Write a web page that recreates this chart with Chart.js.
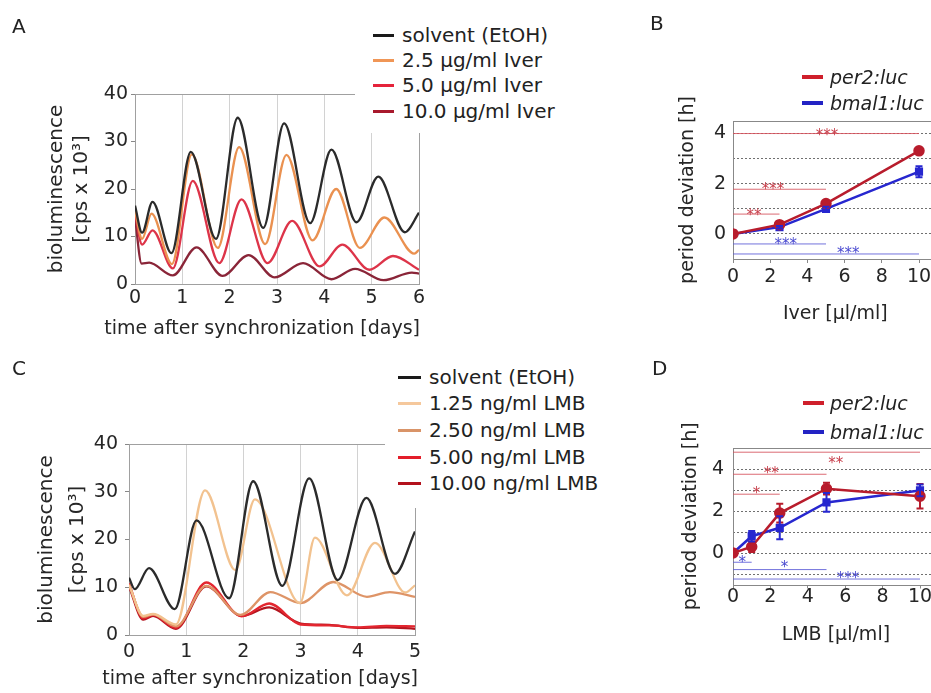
<!DOCTYPE html>
<html><head><meta charset="utf-8">
<script src="https://cdn.jsdelivr.net/npm/chart.js@4"></script>
<style>
html,body{margin:0;padding:0;background:#fff;overflow:hidden;width:931px;height:693px;position:relative}
canvas{position:absolute}
.let{position:absolute;font-family:"DejaVu Sans",sans-serif;font-size:20px;line-height:1;color:#222}
.xt{position:absolute;font-family:"DejaVu Sans",sans-serif;font-size:19px;line-height:1;color:#262626;white-space:nowrap}
.leg{position:absolute;background:#fff;font-family:"DejaVu Sans",sans-serif;color:#222}
.row{position:absolute;left:0;height:26px;display:flex;align-items:center;white-space:nowrap}
.sw{display:inline-block;height:3px}
</style></head>
<body>
<canvas id="cA" width="460" height="340" style="left:0;top:0"></canvas>
<canvas id="cB" width="400" height="340" style="left:600px;top:0"></canvas>
<canvas id="cC" width="460" height="343" style="left:0;top:350px"></canvas>
<canvas id="cD" width="400" height="310" style="left:600px;top:350px"></canvas>
<div class="let" style="left:12px;top:16px">A</div>
<div class="let" style="left:650px;top:13px">B</div>
<div class="let" style="left:12px;top:358px">C</div>
<div class="let" style="left:652px;top:358px">D</div>
<div id="xtA" class="xt" style="right:511px;top:318px"></div>
<div id="xtC" class="xt" style="right:513px;top:668px"></div>
<div id="legA" class="leg" style="left:355px;top:10px;width:245px;height:123px"></div>
<div id="legC" class="leg" style="left:385px;top:356px;width:215px;height:152px"></div>
<div id="legB" class="leg" style="left:795px;top:55px;width:136px;height:60px"></div>
<div id="legD" class="leg" style="left:795px;top:382px;width:136px;height:62px"></div>
<script>
// ---------- Panel A : Ivermectin time courses ----------
const A_xTicks = [0, 1, 2, 3, 4, 5, 6];
const A_yTicks = [0, 10, 20, 30, 40];
const A_xTitle = 'time after synchronization [days]';
const A_labels = ['solvent (EtOH)', '2.5 µg/ml Iver', '5.0 µg/ml Iver', '10.0 µg/ml Iver'];
const A_solvent_t = [0, 0.15, 0.37, 0.77, 1.18, 1.71, 2.17, 2.71, 3.15, 3.70, 4.15, 4.68, 5.14, 5.70, 6.0];
const A_solvent_v = [16.5, 10.8, 17.3, 6.5, 27.8, 9.5, 35.0, 11.8, 33.8, 12.8, 28.3, 13.0, 22.6, 10.9, 15.0];
const A_iver25_t = [0, 0.15, 0.35, 0.78, 1.2, 1.75, 2.2, 2.75, 3.2, 3.75, 4.25, 4.75, 5.27, 5.9, 6.0];
const A_iver25_v = [15.5, 9.5, 14.8, 4.2, 27.3, 7.6, 28.8, 8.4, 27.2, 9.2, 20.0, 7.6, 14.0, 6.4, 7.2];
const A_iver50_t = [0, 0.15, 0.37, 0.8, 1.22, 1.78, 2.25, 2.8, 3.32, 3.9, 4.38, 4.95, 5.45, 6.0];
const A_iver50_v = [15.0, 8.3, 11.3, 3.3, 21.7, 4.4, 17.8, 4.4, 13.3, 3.7, 8.3, 3.0, 5.9, 3.0];
const A_iver100_t = [0, 0.14, 0.3, 0.8, 1.3, 1.85, 2.4, 2.95, 3.55, 4.15, 4.65, 5.25, 5.85, 6.0];
const A_iver100_v = [14.0, 4.3, 4.5, 1.8, 7.7, 1.7, 6.1, 1.4, 4.4, 1.0, 3.2, 0.8, 2.4, 2.2];

// ---------- Panel C : LMB time courses ----------
const C_xTicks = [0, 1, 2, 3, 4, 5];
const C_yTicks = [0, 10, 20, 30, 40];
const C_xTitle = 'time after synchronization [days]';
const C_labels = ['solvent (EtOH)', '1.25 ng/ml LMB', '2.50 ng/ml LMB', '5.00 ng/ml LMB', '10.00 ng/ml LMB'];
const C_solvent_t = [0, 0.1, 0.35, 0.8, 1.18, 1.75, 2.17, 2.68, 3.15, 3.65, 4.15, 4.65, 5.0];
const C_solvent_v = [12.0, 9.6, 14.0, 5.4, 24.0, 7.7, 32.2, 10.3, 32.8, 11.5, 28.7, 12.8, 21.7];
const C_lmb125_t = [0, 0.25, 0.42, 0.82, 1.33, 1.86, 2.2, 2.99, 3.25, 3.81, 4.3, 4.83, 5.0];
const C_lmb125_v = [10.5, 4.0, 4.4, 2.2, 30.3, 13.6, 28.4, 6.7, 20.4, 8.3, 19.3, 8.9, 10.4];
const C_lmb250_t = [0, 0.25, 0.42, 0.82, 1.35, 1.95, 2.47, 3.0, 3.57, 4.16, 4.56, 5.0];
const C_lmb250_v = [10.5, 3.8, 4.3, 1.8, 10.3, 4.2, 9.0, 6.7, 11.1, 8.0, 9.0, 8.0];
const C_lmb500_t = [0, 0.25, 0.42, 0.82, 1.35, 1.97, 2.45, 3.0, 3.5, 4.0, 4.5, 5.0];
const C_lmb500_v = [10.8, 3.5, 4.2, 1.5, 11.0, 3.9, 6.6, 2.2, 2.0, 1.6, 1.9, 1.8];
const C_lmb1000_t = [0, 0.25, 0.42, 0.82, 1.35, 1.97, 2.45, 3.0, 3.5, 4.0, 4.5, 5.0];
const C_lmb1000_v = [10.2, 3.2, 4.0, 1.3, 10.2, 4.0, 5.8, 2.4, 2.1, 1.5, 1.6, 1.3];

// ---------- Panel B : period deviation vs Iver ----------
const B_xTicks = [0, 2, 4, 6, 8, 10];
const B_yGrid = [-1, 0, 1, 2, 3, 4];
const B_yLabels = [0, 2, 4];
const B_dose = [0, 2.5, 5, 10];
const B_per2 = [0, 0.37, 1.21, 3.31];
const B_per2_err = [0, 0.05, 0.08, 0.08];
const B_bmal1 = [0, 0.27, 1.0, 2.48];
const B_bmal1_err = [0, 0.05, 0.08, 0.22];
// significance bars: [y level, from dose, to dose, stars, star x, star y]
const B_sigPer2 = [[4.0, 0, 10, '***', 5.05, 4.06], [1.78, 0, 5, '***', 2.15, 1.9], [0.79, 0, 2.5, '**', 1.13, 0.88]];
const B_sigBmal1 = [[-0.4, 0, 5, '***', 2.83, -0.3], [-0.8, 0, 10, '***', 6.2, -0.66]];

// ---------- Panel D : period deviation vs LMB ----------
const D_xTicks = [0, 2, 4, 6, 8, 10];
const D_yGrid = [-1, 0, 1, 2, 3, 4];
const D_yLabels = [0, 2, 4];
const D_dose = [0, 1, 2.5, 5, 10];
const D_per2 = [0, 0.3, 1.9, 3.06, 2.7];
const D_per2_err = [0, 0.25, 0.45, 0.28, 0.58];
const D_bmal1 = [0, 0.8, 1.2, 2.41, 2.98];
const D_bmal1_err = [0, 0.25, 0.55, 0.45, 0.28];
const D_sigPer2 = [[4.8, 0, 10, '**', 5.5, 4.42], [3.75, 0, 5, '**', 2.05, 3.97], [2.8, 0, 2.5, '*', 1.25, 3.0]];
const D_sigBmal1 = [[-0.44, 0, 1, '*', 0.5, -0.28], [-0.79, 0, 5, '*', 2.75, -0.55], [-1.24, 0, 10, '***', 6.15, -1.06]];

const LEG_BD = ['per2:luc', 'bmal1:luc'];

// ---------- helpers ----------
Chart.defaults.font.family = "'DejaVu Sans', sans-serif";
Chart.defaults.color = '#262626';

function pts(t, v) { return t.map((x, i) => ({x: x, y: v[i]})); }
function curve(t, v, color) {
  return {data: pts(t, v), borderColor: color, backgroundColor: color, borderWidth: 2.3,
          pointRadius: 0, cubicInterpolationMode: 'monotone', fill: false, order: 1};
}
function sigSets(list, color) {
  return list.map(s => ({data: [{x: s[1], y: s[0]}, {x: s[2], y: s[0]}], borderColor: color,
    borderWidth: 1, pointRadius: 0, fill: false, order: 5, tension: 0}));
}
function sigStars(list, color) {
  return list.map(s => ({x: s[4], y: s[5], text: s[3], color: color}));
}

const boxPlugin = {
  id: 'box',
  beforeDatasetsDraw(chart, args, opts) {
    const a = chart.chartArea, ctx = chart.ctx;
    ctx.save();
    ctx.strokeStyle = opts.color || '#999';
    ctx.lineWidth = 1;
    ctx.strokeRect(Math.round(a.left) + 0.5, Math.round(a.top) + 0.5,
                   Math.round(a.right - a.left), Math.round(a.bottom - a.top));
    ctx.restore();
  }
};
const errPlugin = {
  id: 'errbars',
  afterDatasetsDraw(chart) {
    const ctx = chart.ctx, xs = chart.scales.x, ys = chart.scales.y;
    chart.data.datasets.forEach(ds => {
      if (!ds.errors) return;
      ctx.save();
      ctx.strokeStyle = ds.borderColor; ctx.lineWidth = 2;
      ds.data.forEach((p, j) => {
        const e = ds.errors[j]; if (!e) return;
        const x = xs.getPixelForValue(p.x);
        const y1 = ys.getPixelForValue(p.y - e), y2 = ys.getPixelForValue(p.y + e);
        ctx.beginPath();
        ctx.moveTo(x, y1); ctx.lineTo(x, y2);
        ctx.moveTo(x - 3.5, y1); ctx.lineTo(x + 3.5, y1);
        ctx.moveTo(x - 3.5, y2); ctx.lineTo(x + 3.5, y2);
        ctx.stroke();
      });
      ctx.restore();
    });
  }
};
const starPlugin = {
  id: 'stars',
  afterDatasetsDraw(chart, args, opts) {
    if (!opts.items) return;
    const ctx = chart.ctx, xs = chart.scales.x, ys = chart.scales.y;
    ctx.save();
    ctx.font = "15px 'DejaVu Sans', sans-serif";
    ctx.textAlign = 'center'; ctx.textBaseline = 'middle';
    opts.items.forEach(it => {
      ctx.fillStyle = it.color;
      ctx.fillText(it.text, xs.getPixelForValue(it.x), ys.getPixelForValue(it.y) + 4);
    });
    ctx.restore();
  }
};

function timeChart(id, cfg) {
  return new Chart(document.getElementById(id), {
    type: 'line',
    data: {datasets: cfg.sets},
    options: {
      responsive: false, animation: false, devicePixelRatio: 1,
      layout: {padding: {left: 0, top: cfg.top, right: cfg.right, bottom: 0}},
      plugins: {legend: {display: false}, tooltip: {enabled: false}, box: {color: '#a0a0a0'}},
      scales: {
        x: {type: 'linear', min: cfg.xTicks[0], max: cfg.xTicks[cfg.xTicks.length - 1],
            afterFit(s) { s.height = cfg.xH; },
            afterBuildTicks(s) { s.ticks = cfg.xTicks.map(v => ({value: v})); },
            ticks: {padding: cfg.xPad, font: {size: 19}, maxRotation: 0, autoSkip: false},
            grid: {color: '#d2d2d2', drawTicks: false},
            border: {display: false},
            title: {display: false}},
        y: {type: 'linear', min: cfg.yTicks[0], max: cfg.yTicks[cfg.yTicks.length - 1],
            afterFit(s) { s.width = cfg.yW; },
            afterBuildTicks(s) { s.ticks = cfg.yTicks.map(v => ({value: v})); },
            ticks: {padding: cfg.yPad, font: {size: 19}},
            grid: {drawOnChartArea: false, drawTicks: true, tickLength: 4, color: '#888'},
            border: {display: true, color: '#888'},
            title: {display: true, text: ['bioluminescence', '[cps x 10³]'],
                    font: {size: 20, lineHeight: cfg.ytLH}, padding: {top: cfg.ytPad, bottom: 0}}}
      }
    },
    plugins: [boxPlugin]
  });
}

function periodChart(id, cfg) {
  const sets = [
    {data: pts(cfg.dose, cfg.per2), errors: cfg.per2Err, borderColor: '#b81c2c', backgroundColor: '#b81c2c',
     borderWidth: 2.5, pointRadius: 4.5, pointStyle: 'circle', order: 0, tension: 0},
    {data: pts(cfg.dose, cfg.bmal1), errors: cfg.bmal1Err, borderColor: '#2727cf', backgroundColor: '#2727cf',
     borderWidth: 2.5, pointRadius: 4, pointStyle: 'rect', order: 1, tension: 0}
  ].concat(sigSets(cfg.sigR, 'rgba(214,80,90,0.85)'), sigSets(cfg.sigB, 'rgba(90,90,215,0.85)'));
  return new Chart(document.getElementById(id), {
    type: 'line',
    data: {datasets: sets},
    options: {
      responsive: false, animation: false, devicePixelRatio: 1,
      layout: {padding: {left: 0, top: cfg.top, right: cfg.right, bottom: 0}},
      plugins: {legend: {display: false}, tooltip: {enabled: false}, box: {color: '#888'},
                stars: {items: sigStars(cfg.sigR, '#c8404c').concat(sigStars(cfg.sigB, '#4a4ad0'))}},
      scales: {
        x: {type: 'linear', min: 0, max: 11,
            afterFit(s) { s.height = cfg.xH; },
            afterBuildTicks(s) { s.ticks = cfg.xTicks.map(v => ({value: v})); },
            ticks: {padding: cfg.xPad, font: {size: 19}, maxRotation: 0, autoSkip: false},
            grid: {drawOnChartArea: false, drawTicks: true, tickLength: 4, color: '#888'},
            border: {display: false},
            title: {display: true, text: cfg.xTitle, font: {size: 19}, padding: {top: 0, bottom: cfg.xtPad}}},
        y: {type: 'linear', min: cfg.yMin, max: cfg.yMax,
            afterFit(s) { s.width = 133; },
            afterBuildTicks(s) { s.ticks = cfg.yGrid.map(v => ({value: v})); },
            ticks: {padding: cfg.yPad, font: {size: 19}, autoSkip: false,
                    callback: v => cfg.yLabels.includes(v) ? String(v) : ''},
            grid: {drawOnChartArea: true, drawTicks: false, color: '#707070'},
            border: {display: false, dash: [2, 2]},
            title: {display: true, text: 'period deviation [h]', font: {size: 19}, padding: {top: cfg.ytPad, bottom: 0}}}
      }
    },
    plugins: [boxPlugin, errPlugin, starPlugin]
  });
}

timeChart('cA', {
  sets: [curve(A_solvent_t, A_solvent_v, '#2b2b2b'), curve(A_iver25_t, A_iver25_v, '#ea9150'),
         curve(A_iver50_t, A_iver50_v, '#dd3449'), curve(A_iver100_t, A_iver100_v, '#8a2538')],
  xTicks: A_xTicks, yTicks: A_yTicks, top: 94, right: 41, xH: 56, yW: 135,
  xPad: 3, yPad: 3, ytLH: 1.25, ytPad: 44.5
});
timeChart('cC', {
  sets: [curve(C_solvent_t, C_solvent_v, '#2b2b2b'), curve(C_lmb125_t, C_lmb125_v, '#f2c28f'),
         curve(C_lmb250_t, C_lmb250_v, '#de9467'), curve(C_lmb500_t, C_lmb500_v, '#e3262f'),
         curve(C_lmb1000_t, C_lmb1000_v, '#b3151f')],
  xTicks: C_xTicks, yTicks: C_yTicks, top: 94, right: 45, xH: 58, yW: 129,
  xPad: 6, yPad: 7, ytLH: 1.55, ytPad: 31.5
});
periodChart('cB', {
  dose: B_dose, per2: B_per2, per2Err: B_per2_err, bmal1: B_bmal1, bmal1Err: B_bmal1_err,
  sigR: B_sigPer2, sigB: B_sigBmal1, xTicks: B_xTicks, yGrid: B_yGrid, yLabels: B_yLabels,
  yMin: -1, yMax: 4.5, top: 121, right: 62.4, xH: 81, xPad: 3, xtPad: 15, yPad: 7, ytPad: 77,
  xTitle: 'Iver [µl/ml]'
});
periodChart('cD', {
  dose: D_dose, per2: D_per2, per2Err: D_per2_err, bmal1: D_bmal1, bmal1Err: D_bmal1_err,
  sigR: D_sigPer2, sigB: D_sigBmal1, xTicks: D_xTicks, yGrid: D_yGrid, yLabels: D_yLabels,
  yMin: -1.5, yMax: 5, top: 98, right: 61.3, xH: 75.5, xPad: -3, xtPad: 14, yPad: 9, ytPad: 80,
  xTitle: 'LMB [µl/ml]'
});

document.getElementById('xtA').textContent = A_xTitle;
document.getElementById('xtC').textContent = C_xTitle;

// ---------- legends (HTML text) ----------
function legend(id, labels, colors, rowsY, swX, swW, swH, txtX, size, italic) {
  const box = document.getElementById(id);
  const r = box.getBoundingClientRect();
  labels.forEach((lab, i) => {
    const row = document.createElement('div');
    row.className = 'row';
    row.style.top = (rowsY[i] - r.top - 13) + 'px';
    row.style.left = (swX - r.left) + 'px';
    const sw = document.createElement('span');
    sw.className = 'sw';
    sw.style.width = swW + 'px'; sw.style.height = swH + 'px'; sw.style.background = colors[i];
    sw.style.marginRight = (txtX - swX - swW) + 'px';
    const tx = document.createElement('span');
    tx.textContent = lab;
    tx.style.fontSize = size + 'px';
    if (italic) tx.style.fontStyle = 'italic';
    row.appendChild(sw); row.appendChild(tx);
    box.appendChild(row);
  });
}
legend('legA', A_labels, ['#1a1a1a', '#f09656', '#e5233b', '#a8192d'], [35, 60, 85, 111], 373, 21, 3, 402, 20, false);
legend('legC', C_labels, ['#1a1a1a', '#f5c89c', '#d99468', '#e31e2a', '#b3121d'], [377, 403, 430, 457, 483], 398, 23, 3, 429, 20, false);
legend('legB', LEG_BD, ['#cf1f2b', '#2323c4'], [77, 103], 802, 21, 4, 830, 19, true);
legend('legD', LEG_BD, ['#cf1f2b', '#2323c4'], [403, 432], 803, 21, 4, 830, 19, true);
</script>
</body></html>
